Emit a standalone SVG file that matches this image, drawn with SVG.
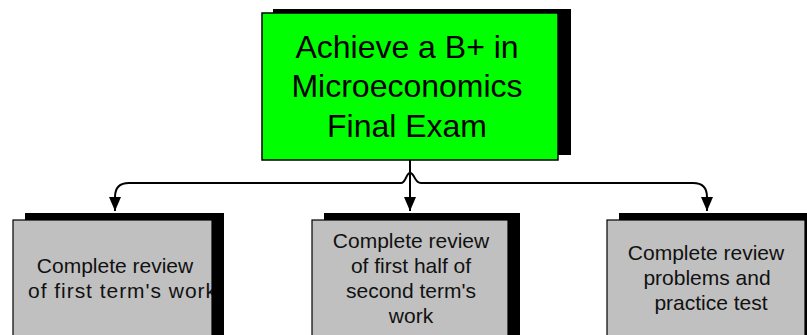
<svg xmlns="http://www.w3.org/2000/svg" width="807" height="335" viewBox="0 0 807 335">
<defs>
<style>
.shadow{fill:#000}
.goal{fill:#00ff00;stroke:#000;stroke-width:1.5}
.task{fill:#c0c0c0;stroke:#000;stroke-width:1.2}
.t1{font-family:"Liberation Sans",Arial,sans-serif;font-size:32px;fill:#000;text-anchor:middle}
.t2{font-family:"Liberation Sans",Arial,sans-serif;font-size:21px;fill:#111;text-anchor:middle}
.conn{fill:none;stroke:#000;stroke-width:2}
</style>
<marker id="arr" markerUnits="userSpaceOnUse" markerWidth="16" markerHeight="12" refX="14" refY="6" orient="auto">
<path d="M0,0 L14,6 L0,12 Z" fill="#000"/>
</marker>
<clipPath id="clipL"><rect x="13" y="220" width="199" height="120"/></clipPath>
</defs>
<rect width="807" height="335" fill="#fff"/>

<g id="connectors">
<path class="conn" d="M410,160 L410,211" marker-end="url(#arr)"/>
<path class="conn" d="M115,211 L115,197 Q115,183 129,183 L401,183 C406,183 406,173 410,173 C415,173 414,183 421,183 L693,183 Q707,183 707,197 L707,211" marker-end="url(#arr)"/>
<path class="conn" d="M115,197 L115,211" marker-end="url(#arr)"/>
</g>

<g id="goal">
<rect class="shadow" x="273" y="9" width="298" height="146"/>
<rect class="goal" x="262" y="13" width="296" height="147"/>
<text class="t1" x="407" y="58">Achieve a B+ in</text>
<text class="t1" x="407" y="97">Microeconomics</text>
<text class="t1" x="407" y="137">Final Exam</text>
</g>

<g id="task1">
<rect class="shadow" x="25" y="213" width="199" height="130"/>
<rect class="task" x="13" y="220" width="199" height="125"/>
<g clip-path="url(#clipL)">
<text class="t2" x="115" y="273">Complete review</text>
<text class="t2" x="28" y="298" textLength="188" lengthAdjust="spacing" style="text-anchor:start">of first term's work</text>
</g>
</g>

<g id="task2">
<rect class="shadow" x="324" y="213" width="196" height="130"/>
<rect class="task" x="312" y="220" width="196" height="125"/>
<text class="t2" x="411" y="248">Complete review</text>
<text class="t2" x="411" y="273">of first half of</text>
<text class="t2" x="411" y="298">second term's</text>
<text class="t2" x="411" y="323">work</text>
</g>

<g id="task3">
<rect class="shadow" x="619" y="213" width="200" height="130"/>
<rect class="task" x="607" y="220" width="198" height="125"/>
<text class="t2" x="706" y="260">Complete review</text>
<text class="t2" x="707" y="285">problems and</text>
<text class="t2" x="711" y="310">practice test</text>
</g>
</svg>
